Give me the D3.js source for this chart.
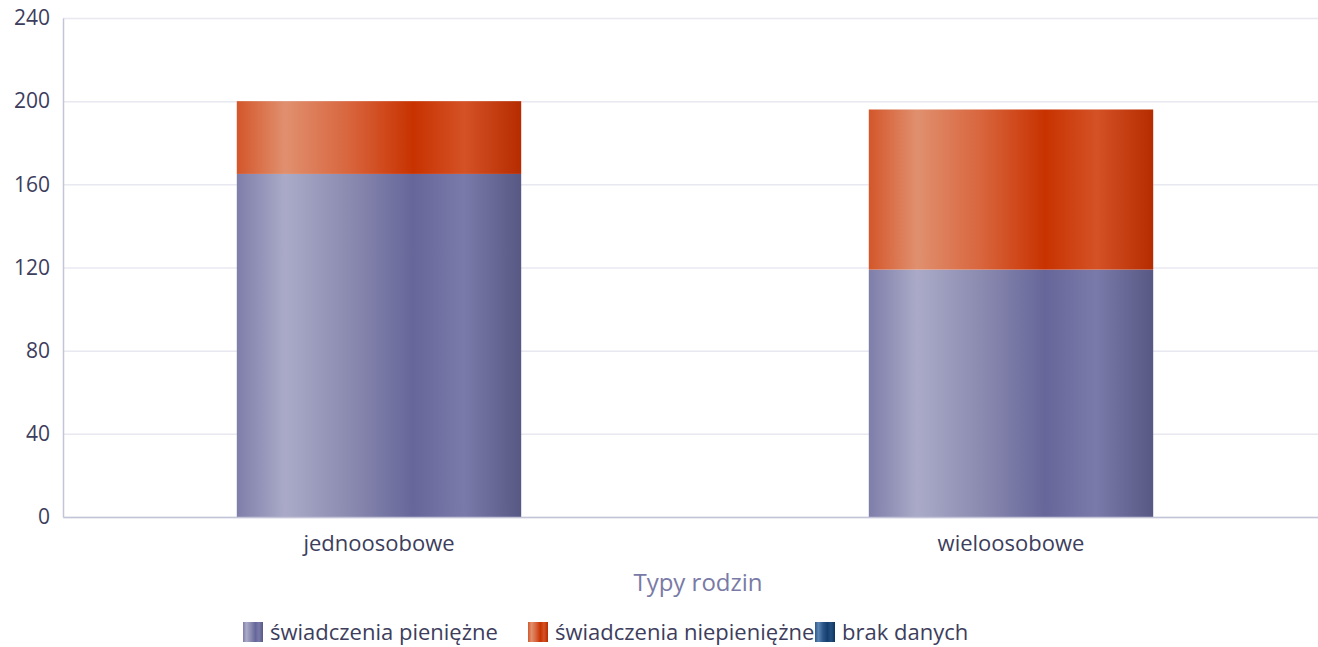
<!DOCTYPE html>
<html>
<head>
<meta charset="utf-8">
<script src="https://cdn.jsdelivr.net/npm/d3@7"></script>
<style>
  body { margin: 0; background: #fff; }
  svg { font-family: "Open Sans", "Noto Sans", sans-serif; }
</style>
</head>
<body>
<script>
// chart data
const categories = ['jednoosobowe', 'wieloosobowe'];
const seriesNames = ['świadczenia pieniężne', 'świadczenia niepieniężne', 'brak danych'];
const pieniezne = [165, 119];
const niepieniezne = [35, 77];
const brakDanych = [0, 0];
const yTicks = [0, 40, 80, 120, 160, 200, 240];

const width = 1318;
const height = 647;
const margin = { top: 18, right: -9, bottom: 130, left: 63 };

const svg = d3.select('body')
  .append('svg')
  .attr('width', width)
  .attr('height', height);

// gradients for the shiny bars
const defs = svg.append('defs');
const gradStops = [
  ['#7e7eaa', '#aaaac8', '#8a8ab0', '#66669a', '#7a7aaa', '#585884'],
  ['#d4562a', '#e0906f', '#d8643c', '#c83200', '#d45226', '#b52c00'],
  ['#2e5a8c', '#5a86b4', '#2c5688', '#143e70', '#24507e', '#0e3460']
];
const offsets = [0, 0.17, 0.4, 0.62, 0.8, 1];
gradStops.forEach((cols, i) => {
  const g = defs.append('linearGradient')
    .attr('id', 'grad' + i)
    .attr('x1', '0%').attr('x2', '100%').attr('y1', '0%').attr('y2', '0%');
  cols.forEach((c, j) => g.append('stop').attr('offset', offsets[j]).attr('stop-color', c));
});

const data = categories.map((c, i) => ({
  cat: c,
  s0: pieniezne[i],
  s1: niepieniezne[i],
  s2: brakDanych[i]
}));
const stacked = d3.stack().keys(['s0', 's1', 's2'])(data);

const x = d3.scaleBand()
  .domain(categories)
  .range([margin.left, width - margin.right])
  .paddingInner(0.55)
  .paddingOuter(0.275);

const y = d3.scaleLinear()
  .domain([0, 240])
  .range([height - margin.bottom, margin.top]);

// grid lines
svg.append('g')
  .selectAll('line')
  .data(yTicks)
  .enter()
  .append('line')
  .attr('x1', margin.left)
  .attr('x2', width)
  .attr('y1', d => y(d) + 0.5)
  .attr('y2', d => y(d) + 0.5)
  .attr('stroke', '#e8e8f0')
  .attr('stroke-width', 1.5);

// bars
svg.append('g')
  .selectAll('g')
  .data(stacked)
  .enter()
  .append('g')
  .attr('fill', (d, i) => `url(#grad${i})`)
  .selectAll('rect')
  .data(d => d)
  .enter()
  .append('rect')
  .attr('x', d => x(d.data.cat))
  .attr('y', d => y(d[1]))
  .attr('width', x.bandwidth())
  .attr('height', d => y(d[0]) - y(d[1]));

// y axis
const yAxis = svg.append('g')
  .attr('transform', `translate(${margin.left},0)`)
  .call(d3.axisLeft(y).tickValues(yTicks).tickSize(0).tickPadding(13));
yAxis.select('.domain').attr('stroke', '#c4c4d8').attr('stroke-width', 1.5);
yAxis.selectAll('text')
  .attr('font-size', 21)
  .attr('fill', '#3d3d5c')
  .attr('font-family', '"Open Sans", sans-serif');

// x axis
const xAxis = svg.append('g')
  .attr('transform', `translate(0,${height - margin.bottom})`)
  .call(d3.axisBottom(x).tickSize(0));
xAxis.select('.domain').attr('stroke', '#c4c4d8').attr('stroke-width', 1.5);
xAxis.selectAll('text')
  .attr('dy', null)
  .attr('y', 34)
  .attr('font-size', 22)
  .attr('fill', '#3d3d5c')
  .attr('font-family', '"Open Sans", sans-serif');

// axis title
svg.append('text')
  .attr('x', 698)
  .attr('y', 591)
  .attr('text-anchor', 'middle')
  .attr('font-size', 24)
  .attr('fill', '#7a7aa6')
  .text('Typy rodzin');

// legend
const legendX = [243, 528, 815];
const legend = svg.append('g')
  .selectAll('g')
  .data(seriesNames)
  .enter()
  .append('g')
  .attr('transform', (d, i) => `translate(${legendX[i]},622)`);

legend.append('text')
  .attr('x', 27)
  .attr('y', 18)
  .attr('font-size', 22)
  .attr('fill', '#3d3d5c')
  .text(d => d);

legend.append('rect')
  .attr('width', 20)
  .attr('height', 20)
  .attr('fill', (d, i) => `url(#grad${i})`);
</script>
</body>
</html>
